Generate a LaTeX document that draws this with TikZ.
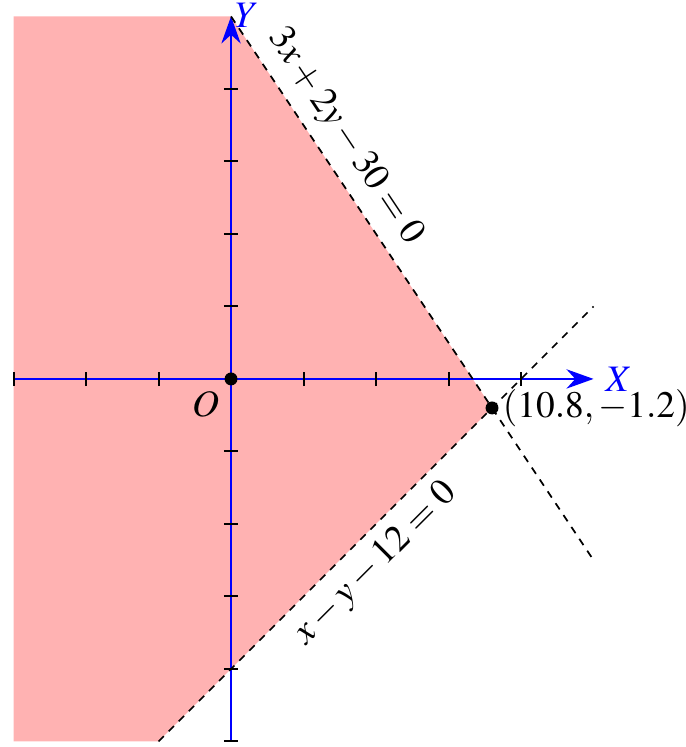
\documentclass[tikz,border=0pt]{standalone}
\usepackage{mathptmx}
\usetikzlibrary{arrows.meta}
\definecolor{region}{RGB}{255,178,178}

\begin{document}
\begin{tikzpicture}[x=0.25cm,y=0.25cm,font=\fontsize{11}{13}\selectfont,
    axis/.style={semithick,draw=blue,-{Stealth[length=2.8mm,width=2mm]}},
    axtick/.style={semithick,draw=black},
    bound/.style={semithin,draw=black,dash pattern=on 2.2pt off 2pt},
    dot/.style={fill=black},
    axlabel/.style={text=blue}]
   \tikzset{semithin/.style={line width=0.5pt}}
   \useasboundingbox (-9.56,-15.23) rectangle (18.82,15.68);
   \coordinate (O) at (0,0);
   \coordinate (P) at (10.8,-1.2);
   % feasible region
   \fill[region] (-9,15) -- (0,15) -- (P) -- (-3,-15) -- (-9,-15) -- cycle;
   % axes
   \draw[axis] (-9,0) -- (15,0) coordinate (xend);
   \draw[axis] (0,-15) -- (0,15) coordinate (yend);
   \foreach \t in {-9,-6,-3,3,6,9,12}
     \draw[axtick] (\t,-0.3) -- (\t,0.3);
   \foreach \t in {-15,-12,-9,-6,-3,3,6,9,12}
     \draw[axtick] (-0.3,\t) -- (0.3,\t);
   \node[axlabel,right] (xlab) at (xend) {$X$};
   \node[axlabel,anchor=west,inner sep=1pt] (ylab) at (0,15.05) {$Y$};
   % boundary lines
   \draw[bound] (0,15) -- (15,-7.5) node[pos=0.25,sloped,above] (l1) {$3x+2y-30=0$};
   \draw[bound] (-3,-15) -- (15,3) node[pos=0.454,sloped,below] (l2) {$x-y-12=0$};
   % points
   \fill[dot] (O) circle (1.9pt);
   \fill[dot] (P) circle (1.9pt);
   \node[below left] (olab) at (O) {$O$};
   \node[right,inner sep=1pt,xshift=2pt] (plab) at (P) {$(10.8,-1.2)$};
\end{tikzpicture}
\end{document}
